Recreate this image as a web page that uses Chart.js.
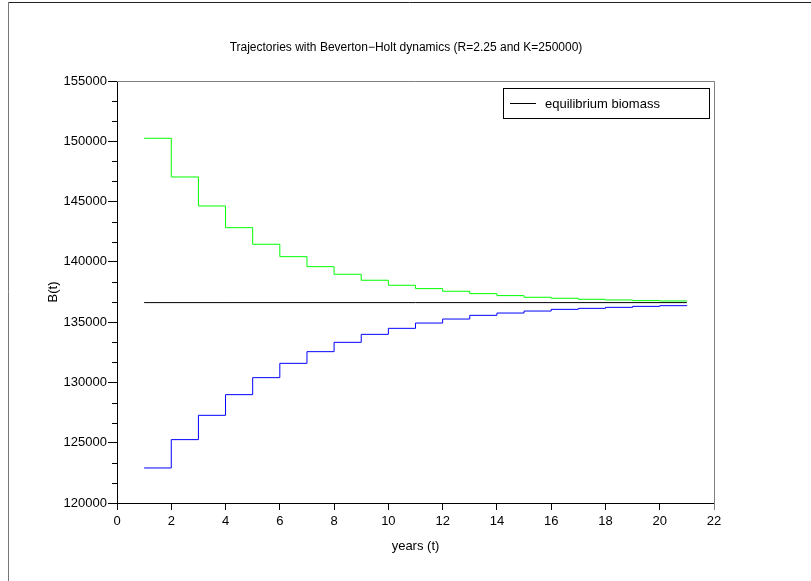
<!DOCTYPE html>
<html>
<head>
<meta charset="utf-8">
<script src="https://cdn.jsdelivr.net/npm/chart.js@4.4.0/dist/chart.umd.min.js"></script>
<style>
html,body{margin:0;padding:0;background:#fff;}
#wrap{position:relative;width:811px;height:581px;}
canvas{display:block;}
</style>
</head>
<body>
<div id="wrap"><canvas id="c" width="811" height="581"></canvas></div>
<script>
// ---- data ----
const years = [1,2,3,4,5,6,7,8,9,10,11,12,13,14,15,16,17,18,19,20,21];
const upperBiomass = [150250,147040,144635,142836,141459,140431,139602,138970,138474,138057,137781,137560,137366,137200,137062,136979,136896,136841,136785,136758,136735];
const lowerBiomass = [122905,125255,127272,128986,130396,131584,132551,133325,133988,134486,134925,135257,135564,135755,135921,136061,136144,136227,136310,136366,136405];
const equilibriumBiomass = 136620;
const equilibriumYears = [1,21];
const xTickValues = [0,2,4,6,8,10,12,14,16,18,20,22];
const yTickValues = [120000,125000,130000,135000,140000,145000,150000,155000];
const yMinorStep = 5000/3;
const titleText = "Trajectories with Beverton\u2212Holt dynamics (R=2.25 and K=250000)";
const xTitle = "years (t)";
const yTitle = "B(t)";
const legendLabel = "equilibrium biomass";

const FONT = "'Liberation Sans', Arial, Helvetica, sans-serif";
Chart.defaults.font.family = FONT;

const decor = {
  id: 'decor',
  afterDraw(chart) {
    const ctx = chart.ctx;
    const a = chart.chartArea;
    const y = chart.scales.y;
    ctx.save();
    // figure frame
    ctx.lineWidth = 1;
    ctx.strokeStyle = '#222';
    ctx.beginPath(); ctx.moveTo(8, 2.5); ctx.lineTo(811, 2.5); ctx.stroke();
    ctx.strokeStyle = '#777';
    ctx.beginPath(); ctx.moveTo(8.5, 2); ctx.lineTo(8.5, 581); ctx.stroke();
    // top and right axis lines
    ctx.strokeStyle = '#808080';
    ctx.beginPath();
    ctx.moveTo(a.left, Math.round(a.top) + 0.5);
    ctx.lineTo(Math.round(a.right) + 0.5, Math.round(a.top) + 0.5);
    ctx.lineTo(Math.round(a.right) + 0.5, a.bottom + 7);
    ctx.stroke();
    // minor y ticks
    ctx.strokeStyle = '#000';
    ctx.beginPath();
    for (let v = y.min; v <= y.max + 1; v += yMinorStep) {
      const isMajor = yTickValues.some(t => Math.abs(t - v) < 1);
      if (isMajor) continue;
      const py = Math.round(y.getPixelForValue(v)) + 0.5;
      ctx.moveTo(Math.round(a.left) - 5, py);
      ctx.lineTo(Math.round(a.left), py);
    }
    ctx.stroke();
    // title
    ctx.fillStyle = '#000';
    ctx.font = '12px ' + FONT;
    ctx.textAlign = 'center';
    ctx.textBaseline = 'middle';
    ctx.fillText(titleText, 406, 48);
    // legend box
    ctx.font = '13px ' + FONT;
    ctx.strokeStyle = '#000';
    ctx.strokeRect(503.5, 88.5, 206, 30);
    const ds = chart.data.datasets[0];
    ctx.strokeStyle = ds.borderColor;
    ctx.beginPath(); ctx.moveTo(510, 103.5); ctx.lineTo(536, 103.5); ctx.stroke();
    ctx.textAlign = 'left';
    ctx.fillText(ds.label, 545, 104);
    ctx.restore();
  }
};

new Chart(document.getElementById('c').getContext('2d'), {
  type: 'line',
  data: {
    datasets: [
      {
        label: legendLabel,
        data: equilibriumYears.map(t => ({x: t, y: equilibriumBiomass})),
        borderColor: '#000000', borderWidth: 1, pointRadius: 0, fill: false
      },
      {
        label: 'upper trajectory',
        data: years.map((t, i) => ({x: t, y: upperBiomass[i]})),
        borderColor: '#00ff00', borderWidth: 1, pointRadius: 0, fill: false, stepped: 'before'
      },
      {
        label: 'lower trajectory',
        data: years.map((t, i) => ({x: t, y: lowerBiomass[i]})),
        borderColor: '#0000ff', borderWidth: 1, pointRadius: 0, fill: false, stepped: 'before'
      }
    ]
  },
  options: {
    responsive: false,
    animation: false,
    events: [],
    layout: { padding: { left: 0, top: 81, right: 97, bottom: 0 } },
    plugins: { legend: { display: false }, title: { display: false }, tooltip: { enabled: false } },
    scales: {
      x: {
        type: 'linear', min: 0, max: 22,
        afterBuildTicks: s => { s.ticks = xTickValues.map(v => ({value: v})); },
        afterFit: s => { s.height = 78; },
        grid: { drawOnChartArea: false, drawTicks: true, tickLength: 7, color: '#000' },
        border: { display: true, color: '#000', width: 1 },
        ticks: { color: '#000', font: { size: 13 }, padding: 4, maxRotation: 0, autoSkip: false },
        title: { display: true, text: xTitle, color: '#000', font: { size: 13 }, padding: { top: 0, bottom: 27 } }
      },
      y: {
        type: 'linear', min: 120000, max: 155000,
        afterBuildTicks: s => { s.ticks = yTickValues.map(v => ({value: v})); },
        afterFit: s => { s.width = 117; },
        grid: { drawOnChartArea: false, drawTicks: true, tickLength: 9, color: '#000' },
        border: { display: true, color: '#000', width: 1 },
        ticks: { color: '#000', font: { size: 13 }, padding: 1, callback: v => String(v) },
        title: { display: true, text: yTitle, color: '#000', font: { size: 13 }, padding: { top: 46, bottom: 0 } }
      }
    }
  },
  plugins: [decor]
});
</script>
</body>
</html>
